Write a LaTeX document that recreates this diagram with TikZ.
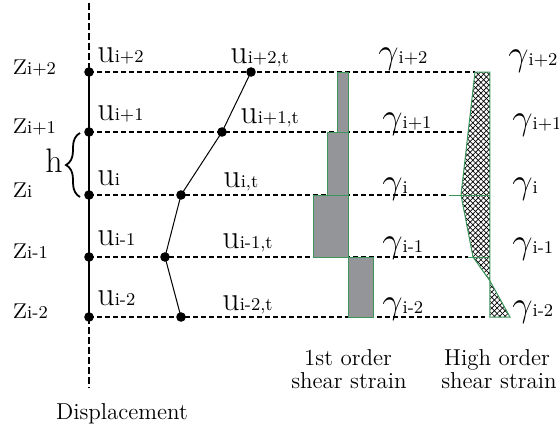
\RequirePackage{fix-cm}
\documentclass[tikz,border=0pt]{standalone}
\usetikzlibrary{patterns.meta,decorations.pathreplacing}
\definecolor{bargray}{RGB}{147,149,152}
\definecolor{edgegreen}{RGB}{60,150,90}
\newcommand\zlab[2]{{\fontsize{17}{17}\selectfont #1}{\fontsize{9}{9}\selectfont #2}}
\newcommand\glab[1]{{\fontsize{18}{18}\selectfont$\gamma$}{\fontsize{9}{9}\selectfont #1}}
\begin{document}
\begin{tikzpicture}[x=0.5pt,y=-0.5pt,
  hdash/.style={line width=1pt,dash pattern=on 2.5pt off 1.5pt},
  vdash/.style={line width=1.3pt,dash pattern=on 3.5pt off 1.5pt},
  axisline/.style={line width=1.3pt},
  profile/.style={line width=0.5pt},
  dot/.style={circle,fill=black,inner sep=0pt,minimum size=4.8pt},
  lbl/.style={anchor=base west,inner sep=0pt},
  captxt/.style={anchor=base,inner sep=0pt,font=\fontsize{11.5}{11.5}\selectfont},
  bar/.style={fill=bargray,draw=edgegreen,line width=0.5pt},
  hatchA/.style={pattern={Lines[angle=45,distance=1.9pt,line width=0.35pt]}},
  hatchB/.style={pattern={Lines[angle=-45,distance=1.9pt,line width=0.35pt]}},
  greenedge/.style={draw=edgegreen,line width=0.5pt}]
\useasboundingbox (0,0) rectangle (559,429);
% axis coordinates
\coordinate (top) at (89,3);
\coordinate (bot) at (89,388);
\coordinate (a2) at (89,72);
\coordinate (a1) at (89,132);
\coordinate (a0) at (89,195);
\coordinate (am1) at (89,257);
\coordinate (am2) at (89,317);
% displacement profile points
\coordinate (t2) at (251,72);
\coordinate (t1) at (222,132);
\coordinate (t0) at (181,195);
\coordinate (tm1) at (165,257);
\coordinate (tm2) at (181,317);
% ends of dashed lines
\coordinate (e2) at (475,72);
\coordinate (e1) at (465,132);
\coordinate (e0) at (449,195);
\coordinate (em1) at (468,257);
\coordinate (em2) at (485,317);
% dashed level lines
\draw[hdash] (a2) -- (e2);
\draw[hdash] (a1) -- (e1);
\draw[hdash] (a0) -- (e0);
\draw[hdash] (am1) -- (em1);
\draw[hdash] (am2) -- (em2);
% axis
\draw[vdash] (top) -- (a2);
\draw[axisline] (a2) -- (am2);
\draw[vdash] (am2) -- (bot);
% displacement profile
\draw[profile] (t2) -- (t1) -- (t0) -- (tm1) -- (tm2);
% dots
\foreach \p in {a2,a1,a0,am1,am2,t2,t1,t0,tm1,tm2}
  \node[dot] (d\p) at (\p) {};
% first order bars
\filldraw[bar] (338,72) rectangle (349,132);
\filldraw[bar] (328,132) rectangle (349,195);
\filldraw[bar] (314,195) rectangle (349,257);
\filldraw[bar] (349,257) rectangle (374,317);
% high order hatched region
\fill[white] (475,72) -- (490,72) -- (490,281) -- (473,257) -- (461,195) -- cycle;
\fill[hatchA] (475,72) -- (490,72) -- (490,281) -- (473,257) -- (461,195) -- cycle;
\fill[hatchB] (475,72) -- (490,72) -- (490,281) -- (473,257) -- (461,195) -- cycle;
\fill[hatchA] (490,281) -- (510,317) -- (490,317) -- cycle;
\fill[hatchB] (490,281) -- (510,317) -- (490,317) -- cycle;
\draw[greenedge] (475,72) -- (490,72) -- (490,317) -- (510,317) -- (490,281);
\draw[greenedge] (475,72) -- (461,195) -- (473,257) -- (490,281);
\draw[greenedge] (449,195) -- (490,195);
\draw[greenedge] (468,257) -- (490,257);
% brace and h
\draw[decorate,decoration={brace,amplitude=7pt},line width=0.9pt] (80,197) -- (80,133);
\node[lbl] (h) at (45,172) {\fontsize{17}{17}\selectfont h};
% z labels
\node[lbl] (z2) at (13,74) {\zlab{z}{i+2}};
\node[lbl] (z1) at (13,133) {\zlab{z}{i+1}};
\node[lbl] (z0) at (13,197) {\zlab{z}{i}};
\node[lbl] (zm1) at (13,258) {\zlab{z}{i-1}};
\node[lbl] (zm2) at (13,318) {\zlab{z}{i-2}};
% u labels
\node[lbl] (u2) at (97,62) {\zlab{u}{i+2}};
\node[lbl] (u1) at (97,120) {\zlab{u}{i+1}};
\node[lbl] (u0) at (97,185) {\zlab{u}{i}};
\node[lbl] (um1) at (97,245) {\zlab{u}{i-1}};
\node[lbl] (um2) at (97,305) {\zlab{u}{i-2}};
% u_t labels
\node[lbl] (ut2) at (230,63) {\zlab{u}{i+2,t}};
\node[lbl] (ut1) at (240,123) {\zlab{u}{i+1,t}};
\node[lbl] (ut0) at (223,187) {\zlab{u}{i,t}};
\node[lbl] (utm1) at (222,248) {\zlab{u}{i-1,t}};
\node[lbl] (utm2) at (222,310) {\zlab{u}{i-2,t}};
% gamma labels (1st order)
\node[lbl] (g2) at (378,63) {\glab{i+2}};
\node[lbl] (g1) at (382,128) {\glab{i+1}};
\node[lbl] (g0) at (382,193) {\glab{i}};
\node[lbl] (gm1) at (382,252) {\glab{i-1}};
\node[lbl] (gm2) at (382,313) {\glab{i-2}};
% gamma labels (high order)
\node[lbl] (G2) at (508,65) {\glab{i+2}};
\node[lbl] (G1) at (512,129) {\glab{i+1}};
\node[lbl] (G0) at (512,193) {\glab{i}};
\node[lbl] (Gm1) at (512,253) {\glab{i-1}};
\node[lbl] (Gm2) at (512,316) {\glab{i-2}};
% captions
\node[captxt] (c1a) at (348,365) {1st order};
\node[captxt] (c1b) at (349,388) {shear strain};
\node[captxt] (c2a) at (497,365) {High order};
\node[captxt] (c2b) at (499,388) {shear strain};
\node[captxt] (c3) at (122,419) {Displacement};
\end{tikzpicture}
\end{document}
